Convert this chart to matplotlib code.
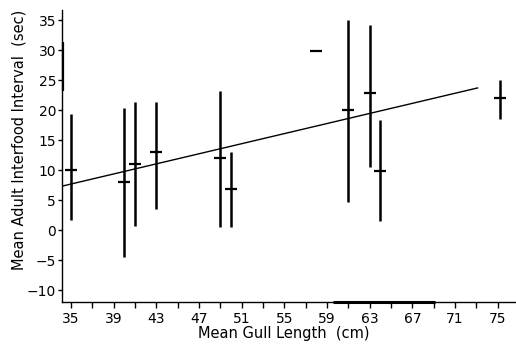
import matplotlib
matplotlib.use('Agg')
import matplotlib.pyplot as plt


# gull length (cm) vs mean adult interfood interval (sec)
gull_length = [35.0, 40.0, 41.0, 43.0, 49.0, 50.0, 61.0, 63.0, 64.0, 75.2]
interval_mean = [10.0, 8.0, 11.0, 13.0, 12.0, 6.8, 20.0, 22.9, 9.8, 22.0]
interval_low = [1.6, -4.5, 0.6, 3.5, 0.5, 0.5, 4.6, 10.5, 1.5, 18.5]
interval_high = [19.3, 20.3, 21.3, 21.4, 23.2, 13.0, 35.1, 34.2, 18.3, 25.1]

# lone mean with no range, and the partly hidden bar on the y axis
lone_x = [58.0]
lone_y = [29.9]
edge_x = 34.25
edge_range = [23.2, 31.4]

# fitted line end points
fit_x = [34.2, 73.1]
fit_y = [7.33, 23.7]

# heavy stretch on the x axis (print artefact)
axis_mark = [59.6, 69.1]

x_ticks = list(range(35, 77, 2))
x_labels = [str(t) if (t - 35) % 4 == 0 else '' for t in x_ticks]
y_ticks = list(range(-10, 36, 5))


def main():
  fig = plt.figure(figsize=(5.16, 3.47), dpi=100)
  ax = fig.add_axes([0.1207, 0.1297, 0.8793, 0.8415])

  # vertical range bars
  ax.vlines(gull_length, interval_low, interval_high, colors='black', linewidth=1.8)
  ax.plot(gull_length, interval_mean, linestyle='none', marker='_', markersize=9,
          markeredgewidth=1.6, color='black')
  ax.plot(lone_x, lone_y, linestyle='none', marker='_', markersize=8,
          markeredgewidth=1.6, color='black')
  ax.vlines([edge_x], edge_range[0], edge_range[1], colors='black', linewidth=1.6,
            clip_on=False)

  ax.plot(fit_x, fit_y, color='black', linewidth=1.0)

  ax.set_xlim(34.2, 76.7)
  ax.set_ylim(-12, 36.7)
  ax.plot(axis_mark, [-12, -12], color='black', linewidth=2.2, clip_on=False,
          solid_capstyle='butt')

  ax.spines['top'].set_visible(False)
  ax.spines['right'].set_visible(False)
  ax.spines['left'].set_linewidth(1.0)
  ax.spines['bottom'].set_linewidth(1.0)

  ax.set_xticks(x_ticks)
  ax.set_xticklabels(x_labels)
  ax.set_yticks(y_ticks)
  ax.tick_params(axis='x', direction='out', length=4, width=1.0, pad=3, labelsize=10)
  ax.tick_params(axis='y', direction='out', length=3, width=1.0, pad=1.5, labelsize=10)

  ax.set_xlabel('Mean Gull Length  (cm)', fontsize=10.5)
  ax.set_ylabel('Mean Adult Interfood Interval  (sec)', fontsize=10.5)
  # label anchors: top edge for x label, right edge for y label
  ax.xaxis.set_label_coords(0.4875, -0.082)
  ax.yaxis.set_label_coords(-0.078, 0.554)

  fig.savefig('out.png', dpi=100)


if __name__ == "__main__":
  main()
